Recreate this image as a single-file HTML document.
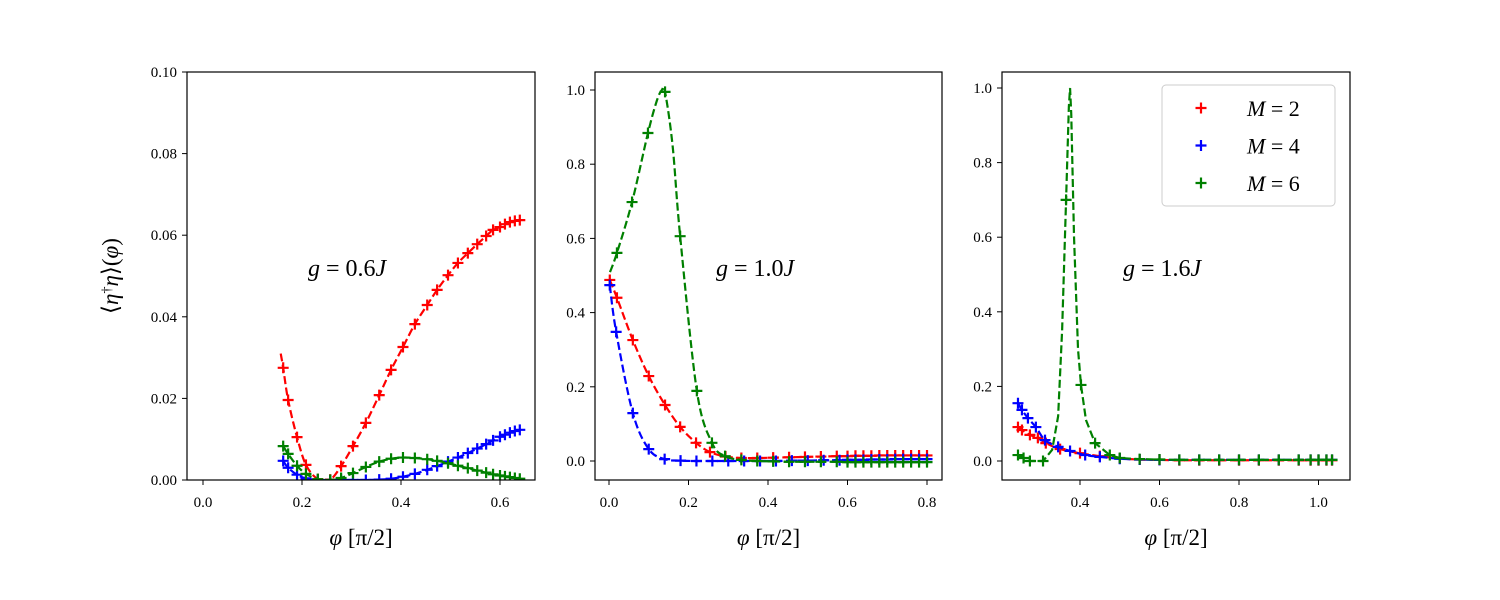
<!DOCTYPE html>
<html><head><meta charset="utf-8"><style>
html,body{margin:0;padding:0;background:#fff;}
svg{display:block;font-family:"Liberation Serif",serif;}
</style></head><body>
<svg id="chart" width="1500" height="600" viewBox="0 0 1500 600"></svg>
<script>
// ---- Panel 1 (g = 0.6J) ----
const p1X = [0.162,0.172,0.19,0.208,0.232,0.257,0.279,0.303,0.329,0.356,0.38,0.404,0.428,0.453,0.473,0.495,0.515,0.535,0.554,0.572,0.586,0.6,0.61,0.62,0.63,0.64];
const p1RedX = [0.157,0.162,0.172,0.19,0.208,0.232,0.257,0.279,0.303,0.329,0.356,0.38,0.404,0.428,0.453,0.473,0.495,0.515,0.535,0.554,0.572,0.586,0.6,0.61,0.62,0.63,0.64];
const p1Red = [0.031,0.0275,0.0196,0.0105,0.0037,0.0002,0.0001,0.0034,0.0083,0.014,0.0208,0.027,0.0326,0.0382,0.0429,0.0466,0.0502,0.0532,0.0556,0.0578,0.0598,0.0613,0.062,0.0627,0.0632,0.0635,0.0637];
const p1RedMark = [0,1,1,1,1,1,1,1,1,1,1,1,1,1,1,1,1,1,1,1,1,1,1,1,1,1,1];
const p1Blue = [0.0047,0.003,0.0013,0.0004,0,0,0,0,0,0.0001,0.0003,0.0008,0.0015,0.0025,0.0034,0.0045,0.0055,0.0066,0.0077,0.0088,0.0097,0.0106,0.0111,0.0116,0.012,0.0123];
const p1Green = [0.0083,0.0064,0.0035,0.0015,0.0002,0,0.0005,0.0017,0.0032,0.0045,0.0052,0.0055,0.0054,0.0051,0.0047,0.0041,0.0035,0.0029,0.0023,0.0018,0.0014,0.0011,0.0009,0.0007,0.0005,0.0003];
const p1XTicks = [0.0,0.2,0.4,0.6];
const p1YTicks = [0.00,0.02,0.04,0.06,0.08,0.10];
const p1YLabels = ["0.00","0.02","0.04","0.06","0.08","0.10"];

// ---- Panel 2 (g = 1.0J) ----
const p2RedX = [0.002,0.02,0.06,0.10,0.141,0.179,0.219,0.254,0.293,0.333,0.373,0.413,0.453,0.493,0.533,0.573,0.6,0.62,0.64,0.66,0.68,0.7,0.72,0.74,0.76,0.78,0.8];
const p2RedY = [0.488,0.44,0.326,0.229,0.151,0.092,0.049,0.024,0.012,0.008,0.008,0.009,0.01,0.011,0.012,0.013,0.013,0.014,0.014,0.014,0.015,0.015,0.015,0.015,0.015,0.015,0.015];
const p2BlueX = [0.002,0.018,0.06,0.10,0.14,0.18,0.22,0.26,0.3,0.34,0.38,0.42,0.46,0.5,0.54,0.58,0.6,0.62,0.64,0.66,0.68,0.7,0.72,0.74,0.76,0.78,0.8];
const p2BlueY = [0.474,0.348,0.129,0.032,0.005,0.001,0,0,0,0,0,0,0.001,0.001,0.002,0.002,0.003,0.003,0.003,0.004,0.004,0.004,0.005,0.005,0.005,0.005,0.005];
const p2GreenX = [0.0025,0.02,0.058,0.098,0.12,0.133,0.141,0.16,0.179,0.221,0.259,0.292,0.333,0.373,0.413,0.453,0.493,0.533,0.573,0.6,0.62,0.64,0.66,0.68,0.7,0.72,0.74,0.76,0.78,0.8];
const p2GreenY = [0.509,0.561,0.698,0.884,0.97,1.0,0.995,0.85,0.606,0.189,0.049,0.013,0.003,0,-0.001,-0.002,-0.002,-0.002,-0.002,-0.003,-0.003,-0.003,-0.003,-0.003,-0.003,-0.003,-0.003,-0.003,-0.003,-0.003];
const p2GreenMark = [0,1,1,1,0,0,1,0,1,1,1,1,1,1,1,1,1,1,1,1,1,1,1,1,1,1,1,1,1,1];
const p2XTicks = [0.0,0.2,0.4,0.6,0.8];
const p2YTicks = [0.0,0.2,0.4,0.6,0.8,1.0];
const p2YLabels = ["0.0","0.2","0.4","0.6","0.8","1.0"];

// ---- Panel 3 (g = 1.6J) ----
const p3RedX = [0.244,0.254,0.274,0.294,0.314,0.35,0.4,0.45,0.5,0.55,0.6,0.65,0.7,0.75,0.8,0.85,0.9,0.95,0.98,1.0,1.02,1.034];
const p3RedY = [0.091,0.083,0.07,0.062,0.048,0.032,0.021,0.013,0.007,0.004,0.003,0.002,0.002,0.002,0.002,0.002,0.002,0.002,0.002,0.002,0.002,0.002];
const p3BlueX = [0.244,0.254,0.269,0.289,0.312,0.345,0.375,0.413,0.45,0.5,0.55,0.6,0.65,0.7,0.75,0.8,0.85,0.9,0.95,0.98,1.0,1.02,1.034];
const p3BlueY = [0.155,0.137,0.115,0.091,0.056,0.038,0.027,0.016,0.011,0.006,0.004,0.003,0.003,0.003,0.003,0.003,0.003,0.003,0.003,0.003,0.003,0.003,0.003];
const p3GreenX = [0.244,0.258,0.274,0.307,0.33,0.345,0.355,0.365,0.372,0.375,0.378,0.385,0.395,0.4025,0.415,0.438,0.475,0.5,0.55,0.6,0.65,0.7,0.75,0.8,0.85,0.9,0.95,0.98,1.0,1.02,1.034];
const p3GreenY = [0.016,0.008,0.0,0.0,0.03,0.12,0.35,0.70,0.95,1.0,0.93,0.6,0.3,0.204,0.11,0.048,0.016,0.008,0.005,0.004,0.003,0.003,0.003,0.003,0.003,0.003,0.003,0.003,0.003,0.003,0.003];
const p3GreenMark = [1,1,1,1,0,0,0,1,0,0,0,0,0,1,0,1,1,1,1,1,1,1,1,1,1,1,1,1,1,1,1];
const p3XTicks = [0.4,0.6,0.8,1.0];
const p3YTicks = [0.0,0.2,0.4,0.6,0.8,1.0];
const p3YLabels = ["0.0","0.2","0.4","0.6","0.8","1.0"];

const NS = "http://www.w3.org/2000/svg";
const svg = document.getElementById("chart");
function mk(tag, attrs, parent) {
  const e = document.createElementNS(NS, tag);
  for (const k in attrs) e.setAttribute(k, attrs[k]);
  (parent || svg).appendChild(e);
  return e;
}
function smoothPath(pts) {
  let d = "M" + pts[0][0].toFixed(2) + "," + pts[0][1].toFixed(2);
  for (let i = 0; i < pts.length - 1; i++) {
    const p0 = pts[Math.max(0, i - 1)], p1 = pts[i], p2 = pts[i + 1], p3 = pts[Math.min(pts.length - 1, i + 2)];
    const c1x = p1[0] + (p2[0] - p0[0]) / 6, c1y = p1[1] + (p2[1] - p0[1]) / 6;
    const c2x = p2[0] - (p3[0] - p1[0]) / 6, c2y = p2[1] - (p3[1] - p1[1]) / 6;
    d += "C" + c1x.toFixed(2) + "," + c1y.toFixed(2) + " " + c2x.toFixed(2) + "," + c2y.toFixed(2) + " " + p2[0].toFixed(2) + "," + p2[1].toFixed(2);
  }
  return d;
}

function panel(name, box, xmin, xmax, ymin, ymax, xTicks, yTicks, yLabels, xDec, series, ann) {
  const g = mk("g", {});
  
  
  const sx = v => box.x + (v - xmin) / (xmax - xmin) * box.w;
  const sy = v => box.y + box.h - (v - ymin) / (ymax - ymin) * box.h;
  const clipId = name + "-clip";
  const cp = mk("clipPath", {id: clipId}, g);
  mk("rect", {x: box.x, y: box.y, width: box.w, height: box.h}, cp);
  series.forEach(s => {
    const sg = mk("g", {"clip-path": "url(#" + clipId + ")"}, g);
    
    
    const pts = s.xs.map((x, i) => [sx(x), sy(s.ys[i])]);
    let d;
    if (s.sharp) {
      d = pts.map((p, i) => (i ? "L" : "M") + p[0].toFixed(2) + "," + p[1].toFixed(2)).join("");
    } else {
      d = smoothPath(pts);
    }
    const line = mk("path", {d: d, fill: "none", stroke: s.color, "stroke-width": 2.2, "stroke-dasharray": "8,3.5"}, sg);
    
    
    pts.forEach((p, i) => {
      if (s.mark && !s.mark[i]) return;
      const cx = p[0], cy = p[1];
      const m = mk("path", {d: `M${cx-5.5},${cy}H${cx+5.5}M${cx},${cy-5.5}V${cy+5.5}`, stroke: s.color, "stroke-width": 2.2}, sg);
      
      
    });
  });
  const frame = mk("rect", {x: box.x, y: box.y, width: box.w, height: box.h, fill: "none", stroke: "#000", "stroke-width": 1.2}, g);
  
  
  xTicks.forEach(t => {
    const x = sx(t);
    mk("line", {x1: x, x2: x, y1: box.y + box.h, y2: box.y + box.h + 5, stroke: "#000", "stroke-width": 1}, g);
    const tx = mk("text", {x: x, y: box.y + box.h + 27, "text-anchor": "middle", "font-size": 15}, g);
    tx.textContent = t.toFixed(xDec);
    
    
  });
  yTicks.forEach((t, i) => {
    const y = sy(t);
    mk("line", {x1: box.x - 5, x2: box.x, y1: y, y2: y, stroke: "#000", "stroke-width": 1}, g);
    const tx = mk("text", {x: box.x - 10, y: y + 5, "text-anchor": "end", "font-size": 15}, g);
    tx.textContent = yLabels[i];
    
    
  });
  const xl = mk("text", {x: box.x + box.w / 2, y: 545, "text-anchor": "middle", "font-size": 23}, g);
  xl.innerHTML = '<tspan font-style="italic">φ</tspan> [π/2]';
  
  
  const an = mk("text", {x: ann.x, y: 276, "font-size": 24}, g);
  an.innerHTML = '<tspan font-style="italic">g</tspan> = ' + ann.v + '<tspan font-style="italic">J</tspan>';
  
  
}

panel("panel-g06", {x: 187, y: 72, w: 348, h: 408}, -0.0323, 0.6707, 0, 0.10, p1XTicks, p1YTicks, p1YLabels, 1, [
  {label: "m2", color: "#ff0000", xs: p1RedX, ys: p1Red, mark: p1RedMark},
  {label: "m4", color: "#0000ff", xs: p1X, ys: p1Blue},
  {label: "m6", color: "#008000", xs: p1X, ys: p1Green}
], {x: 308, v: "0.6"});

panel("panel-g10", {x: 595, y: 72, w: 347, h: 408}, -0.0352, 0.8377, -0.0512, 1.0485, p2XTicks, p2YTicks, p2YLabels, 1, [
  {label: "m2", color: "#ff0000", xs: p2RedX, ys: p2RedY},
  {label: "m4", color: "#0000ff", xs: p2BlueX, ys: p2BlueY},
  {label: "m6", color: "#008000", xs: p2GreenX, ys: p2GreenY, mark: p2GreenMark}
], {x: 716, v: "1.0"});

panel("panel-g16", {x: 1002, y: 72, w: 348, h: 408}, 0.2038, 1.0792, -0.0509, 1.0429, p3XTicks, p3YTicks, p3YLabels, 1, [
  {label: "m2", color: "#ff0000", xs: p3RedX, ys: p3RedY},
  {label: "m4", color: "#0000ff", xs: p3BlueX, ys: p3BlueY},
  {label: "m6", color: "#008000", xs: p3GreenX, ys: p3GreenY, mark: p3GreenMark, sharp: true}
], {x: 1123, v: "1.6"});

// y-axis title
const yt = mk("text", {x: 0, y: 0, "text-anchor": "middle", "font-size": 23, transform: "translate(118,276) rotate(-90)"});
yt.innerHTML = '⟨<tspan font-style="italic">η</tspan><tspan baseline-shift="super" font-size="14">†</tspan><tspan font-style="italic">η</tspan>⟩(<tspan font-style="italic">φ</tspan>)';



// legend
const lg = mk("g", {});


mk("rect", {x: 1162, y: 85, width: 173, height: 121, rx: 4, fill: "#fff", stroke: "#ccc", "stroke-width": 1}, lg);
const legColors = ["#ff0000", "#0000ff", "#008000"];
const legVals = ["2", "4", "6"];
legVals.forEach((v, i) => {
  const y = 108 + i * 37.5;
  const e = mk("g", {}, lg);
  
  
  mk("path", {d: `M1195.5,${y}H1206.5M1201,${y-5.5}V${y+5.5}`, stroke: legColors[i], "stroke-width": 2.2}, e);
  const t = mk("text", {x: 1247, y: y + 8, "font-size": 22}, e);
  t.innerHTML = '<tspan font-style="italic">M</tspan> = ' + v;
});
</script>
</body></html>
